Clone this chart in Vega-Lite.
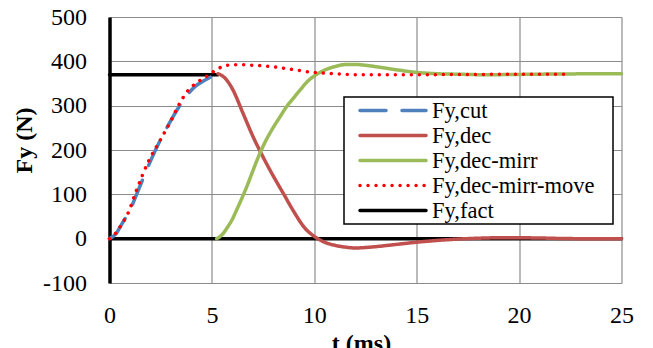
{
  "$schema": "https://vega.github.io/schema/vega-lite/v6.json",
  "width": 512,
  "height": 266,
  "autosize": {"type": "none"},
  "padding": {"left": 109.5, "top": 17, "right": 31.5, "bottom": 65},
  "background": "white",
  "config": {"view": {"stroke": null}, "font": "Liberation Serif"},
  "data": {
    "values": [
      {"s": "Fy,fact", "g": "a", "t": 0, "F": 370},
      {"s": "Fy,fact", "g": "a", "t": 5.3, "F": 370},
      {"s": "Fy,fact", "g": "b", "t": 0, "F": 0},
      {"s": "Fy,fact", "g": "b", "t": 25, "F": 0},

      {"s": "Fy,cut", "g": "a", "t": 0, "F": 0},
      {"s": "Fy,cut", "g": "a", "t": 0.3, "F": 10},
      {"s": "Fy,cut", "g": "a", "t": 0.6, "F": 33},
      {"s": "Fy,cut", "g": "a", "t": 1.0, "F": 65},
      {"s": "Fy,cut", "g": "a", "t": 1.5, "F": 120},
      {"s": "Fy,cut", "g": "a", "t": 2.0, "F": 175},
      {"s": "Fy,cut", "g": "a", "t": 2.5, "F": 224},
      {"s": "Fy,cut", "g": "a", "t": 3.0, "F": 267},
      {"s": "Fy,cut", "g": "a", "t": 3.5, "F": 305},
      {"s": "Fy,cut", "g": "a", "t": 3.9, "F": 330},
      {"s": "Fy,cut", "g": "a", "t": 4.2, "F": 344},
      {"s": "Fy,cut", "g": "a", "t": 4.6, "F": 356},
      {"s": "Fy,cut", "g": "a", "t": 5.0, "F": 366},
      {"s": "Fy,cut", "g": "a", "t": 5.3, "F": 372},

      {"s": "Fy,dec", "g": "a", "t": 5.3, "F": 372},
      {"s": "Fy,dec", "g": "a", "t": 5.6, "F": 364},
      {"s": "Fy,dec", "g": "a", "t": 6.0, "F": 338},
      {"s": "Fy,dec", "g": "a", "t": 6.5, "F": 285},
      {"s": "Fy,dec", "g": "a", "t": 7.0, "F": 231},
      {"s": "Fy,dec", "g": "a", "t": 7.5, "F": 184},
      {"s": "Fy,dec", "g": "a", "t": 8.0, "F": 141},
      {"s": "Fy,dec", "g": "a", "t": 8.5, "F": 101},
      {"s": "Fy,dec", "g": "a", "t": 9.0, "F": 61},
      {"s": "Fy,dec", "g": "a", "t": 9.5, "F": 26},
      {"s": "Fy,dec", "g": "a", "t": 10.0, "F": 5},
      {"s": "Fy,dec", "g": "a", "t": 10.5, "F": -8},
      {"s": "Fy,dec", "g": "a", "t": 11.0, "F": -15},
      {"s": "Fy,dec", "g": "a", "t": 11.5, "F": -19},
      {"s": "Fy,dec", "g": "a", "t": 12.0, "F": -21},
      {"s": "Fy,dec", "g": "a", "t": 12.5, "F": -20},
      {"s": "Fy,dec", "g": "a", "t": 13.0, "F": -18},
      {"s": "Fy,dec", "g": "a", "t": 14.0, "F": -13},
      {"s": "Fy,dec", "g": "a", "t": 15.0, "F": -8},
      {"s": "Fy,dec", "g": "a", "t": 16.0, "F": -4},
      {"s": "Fy,dec", "g": "a", "t": 17.0, "F": -1},
      {"s": "Fy,dec", "g": "a", "t": 18.0, "F": 1},
      {"s": "Fy,dec", "g": "a", "t": 19.0, "F": 2},
      {"s": "Fy,dec", "g": "a", "t": 20.0, "F": 2},
      {"s": "Fy,dec", "g": "a", "t": 21.0, "F": 1.5},
      {"s": "Fy,dec", "g": "a", "t": 22.0, "F": 0.5},
      {"s": "Fy,dec", "g": "a", "t": 23.0, "F": 0},
      {"s": "Fy,dec", "g": "a", "t": 25.0, "F": 0},

      {"s": "Fy,dec-mirr", "g": "a", "t": 5.23, "F": 0},
      {"s": "Fy,dec-mirr", "g": "a", "t": 5.5, "F": 9},
      {"s": "Fy,dec-mirr", "g": "a", "t": 5.72, "F": 23},
      {"s": "Fy,dec-mirr", "g": "a", "t": 6.0, "F": 44},
      {"s": "Fy,dec-mirr", "g": "a", "t": 6.21, "F": 65},
      {"s": "Fy,dec-mirr", "g": "a", "t": 6.5, "F": 95},
      {"s": "Fy,dec-mirr", "g": "a", "t": 6.7, "F": 117},
      {"s": "Fy,dec-mirr", "g": "a", "t": 7.0, "F": 153},
      {"s": "Fy,dec-mirr", "g": "a", "t": 7.31, "F": 189},
      {"s": "Fy,dec-mirr", "g": "a", "t": 7.6, "F": 218},
      {"s": "Fy,dec-mirr", "g": "a", "t": 7.92, "F": 245},
      {"s": "Fy,dec-mirr", "g": "a", "t": 8.3, "F": 273},
      {"s": "Fy,dec-mirr", "g": "a", "t": 8.65, "F": 298},
      {"s": "Fy,dec-mirr", "g": "a", "t": 9.0, "F": 318},
      {"s": "Fy,dec-mirr", "g": "a", "t": 9.3, "F": 335},
      {"s": "Fy,dec-mirr", "g": "a", "t": 9.7, "F": 356},
      {"s": "Fy,dec-mirr", "g": "a", "t": 10.0, "F": 367},
      {"s": "Fy,dec-mirr", "g": "a", "t": 10.5, "F": 380},
      {"s": "Fy,dec-mirr", "g": "a", "t": 11.0, "F": 388},
      {"s": "Fy,dec-mirr", "g": "a", "t": 11.6, "F": 393},
      {"s": "Fy,dec-mirr", "g": "a", "t": 12.0, "F": 393},
      {"s": "Fy,dec-mirr", "g": "a", "t": 12.5, "F": 391},
      {"s": "Fy,dec-mirr", "g": "a", "t": 13.0, "F": 388},
      {"s": "Fy,dec-mirr", "g": "a", "t": 14.0, "F": 381},
      {"s": "Fy,dec-mirr", "g": "a", "t": 15.0, "F": 375},
      {"s": "Fy,dec-mirr", "g": "a", "t": 16.0, "F": 372},
      {"s": "Fy,dec-mirr", "g": "a", "t": 17.0, "F": 371},
      {"s": "Fy,dec-mirr", "g": "a", "t": 18.0, "F": 370},
      {"s": "Fy,dec-mirr", "g": "a", "t": 19.0, "F": 370},
      {"s": "Fy,dec-mirr", "g": "a", "t": 20.0, "F": 370.5},
      {"s": "Fy,dec-mirr", "g": "a", "t": 22.0, "F": 371.5},
      {"s": "Fy,dec-mirr", "g": "a", "t": 25.0, "F": 372},

      {"s": "Fy,dec-mirr-move", "g": "a", "t": 0, "F": 0},
      {"s": "Fy,dec-mirr-move", "g": "a", "t": 0.3, "F": 12},
      {"s": "Fy,dec-mirr-move", "g": "a", "t": 0.6, "F": 33},
      {"s": "Fy,dec-mirr-move", "g": "a", "t": 0.9, "F": 57},
      {"s": "Fy,dec-mirr-move", "g": "a", "t": 1.3, "F": 107},
      {"s": "Fy,dec-mirr-move", "g": "a", "t": 1.9, "F": 174},
      {"s": "Fy,dec-mirr-move", "g": "a", "t": 2.5, "F": 224},
      {"s": "Fy,dec-mirr-move", "g": "a", "t": 3.0, "F": 266},
      {"s": "Fy,dec-mirr-move", "g": "a", "t": 3.4, "F": 303},
      {"s": "Fy,dec-mirr-move", "g": "a", "t": 3.8, "F": 332},
      {"s": "Fy,dec-mirr-move", "g": "a", "t": 4.2, "F": 350},
      {"s": "Fy,dec-mirr-move", "g": "a", "t": 4.5, "F": 359},
      {"s": "Fy,dec-mirr-move", "g": "a", "t": 4.8, "F": 368},
      {"s": "Fy,dec-mirr-move", "g": "a", "t": 5.15, "F": 379},
      {"s": "Fy,dec-mirr-move", "g": "a", "t": 5.5, "F": 388},
      {"s": "Fy,dec-mirr-move", "g": "a", "t": 5.9, "F": 392},
      {"s": "Fy,dec-mirr-move", "g": "a", "t": 6.3, "F": 392.5},
      {"s": "Fy,dec-mirr-move", "g": "a", "t": 6.7, "F": 392},
      {"s": "Fy,dec-mirr-move", "g": "a", "t": 7.1, "F": 391},
      {"s": "Fy,dec-mirr-move", "g": "a", "t": 7.5, "F": 390},
      {"s": "Fy,dec-mirr-move", "g": "a", "t": 7.9, "F": 388},
      {"s": "Fy,dec-mirr-move", "g": "a", "t": 8.3, "F": 386},
      {"s": "Fy,dec-mirr-move", "g": "a", "t": 8.7, "F": 383},
      {"s": "Fy,dec-mirr-move", "g": "a", "t": 9.1, "F": 381},
      {"s": "Fy,dec-mirr-move", "g": "a", "t": 9.5, "F": 377.5},
      {"s": "Fy,dec-mirr-move", "g": "a", "t": 10.0, "F": 375},
      {"s": "Fy,dec-mirr-move", "g": "a", "t": 10.6, "F": 373},
      {"s": "Fy,dec-mirr-move", "g": "a", "t": 11.4, "F": 371},
      {"s": "Fy,dec-mirr-move", "g": "a", "t": 12.5, "F": 369.5},
      {"s": "Fy,dec-mirr-move", "g": "a", "t": 14.0, "F": 369.5},
      {"s": "Fy,dec-mirr-move", "g": "a", "t": 16.0, "F": 370},
      {"s": "Fy,dec-mirr-move", "g": "a", "t": 18.0, "F": 370.5},
      {"s": "Fy,dec-mirr-move", "g": "a", "t": 20.0, "F": 371},
      {"s": "Fy,dec-mirr-move", "g": "a", "t": 22.2, "F": 371}
    ]
  },
  "mark": {"type": "line", "strokeWidth": 3.5, "strokeCap": "round", "strokeJoin": "round", "interpolate": "monotone"},
  "encoding": {
    "x": {
      "field": "t", "type": "quantitative",
      "scale": {"domain": [0, 25], "nice": false, "zero": false},
      "axis": {
        "title": "t (ms)", "values": [0, 5, 10, 15, 20, 25], "grid": true,
        "gridColor": "#8c8c8c", "gridWidth": 1.2, "domain": false, "ticks": false, "tickSize": 0,
        "labelFont": "Liberation Serif", "labelFontSize": 24, "labelColor": "black",
        "labelPadding": 39, "labelBaseline": "alphabetic", "labelFlush": false, "labelOverlap": false,
        "titleFont": "Liberation Serif", "titleFontSize": 24, "titleFontWeight": "bold", "titleColor": "black",
        "titleX": 251.5, "titleY": 67, "titleBaseline": "alphabetic", "titleAlign": "center"
      }
    },
    "y": {
      "field": "F", "type": "quantitative",
      "scale": {"domain": [-100, 500], "nice": false, "zero": false},
      "axis": {
        "title": "Fy (N)", "values": [-100, 0, 100, 200, 300, 400, 500], "grid": true,
        "labelExpr": "'' + datum.value",
        "gridColor": "#8c8c8c", "gridWidth": 1.2, "domain": true, "domainColor": "black", "domainWidth": 3.5,
        "ticks": false, "tickSize": 0,
        "labelFont": "Liberation Serif", "labelFontSize": 24, "labelColor": "black",
        "labelPadding": 23, "labelFlush": false, "labelOverlap": false,
        "titleFont": "Liberation Serif", "titleFontSize": 24, "titleFontWeight": "bold", "titleColor": "black",
        "titleX": -85, "titleY": 123, "titleAngle": -90, "titleBaseline": "middle", "titleAlign": "center"
      }
    },
    "color": {
      "field": "s", "type": "nominal",
      "scale": {
        "domain": ["Fy,cut", "Fy,dec", "Fy,dec-mirr", "Fy,dec-mirr-move", "Fy,fact"],
        "range": ["#4F81BD", "#C0504D", "#9BBB59", "#FF0000", "#000000"]
      },
      "legend": {
        "title": null, "orient": "none", "legendX": 234.5, "legendY": 80,
        "strokeColor": "black", "fillColor": "white", "padding": 1.5,
        "symbolType": "M-3.3,0H3.3", "symbolSize": 400, "symbolStrokeWidth": 3.5,
        "symbolOffset": 35.5, "labelOffset": 27,
        "labelExpr": "datum.label + '\u2800'",
        "labelFont": "Liberation Serif", "labelFontSize": 22.5, "labelColor": "black",
        "rowPadding": 1, "labelLimit": 400,
        "encode": {"symbols": {"update": {"strokeCap": {"value": "round"}}}, "legend": {"update": {"strokeWidth": {"value": 1.5}}}}
      }
    },
    "strokeDash": {
      "field": "s", "type": "nominal",
      "scale": {
        "domain": ["Fy,cut", "Fy,dec", "Fy,dec-mirr", "Fy,dec-mirr-move", "Fy,fact"],
        "range": [[26, 16], [1, 0], [1, 0], [0.01, 8], [1, 0]]
      },
      "legend": {
        "title": null, "orient": "none", "legendX": 234.5, "legendY": 80,
        "strokeColor": "black", "fillColor": "white", "padding": 1.5,
        "symbolType": "M-3.3,0H3.3", "symbolSize": 400, "symbolStrokeWidth": 3.5,
        "symbolOffset": 35.5, "labelOffset": 27,
        "labelExpr": "datum.label + '\u2800'",
        "labelFont": "Liberation Serif", "labelFontSize": 22.5, "labelColor": "black",
        "rowPadding": 1, "labelLimit": 400,
        "encode": {"symbols": {"update": {"strokeCap": {"value": "round"}}}, "legend": {"update": {"strokeWidth": {"value": 1.5}}}}
      }
    },
    "detail": {"field": "g", "type": "nominal"}
  }
}
